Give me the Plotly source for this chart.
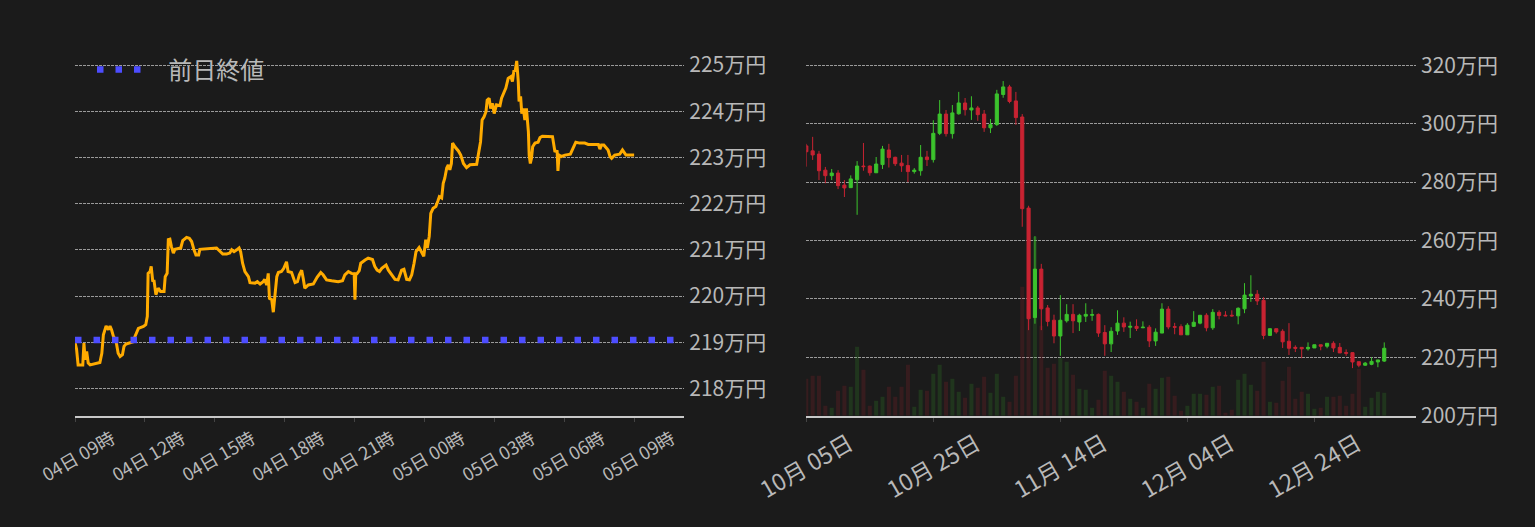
"""BTC/JPY: 24時間チャート + 日足ローソク足."""
import pandas as pd
import plotly.graph_objects as go

BG = "#1b1b1b"
TEXT = "#b8b8b8"
GRID = "#9a9a9a"
AXIS = "#c8c8c8"
UP = "#3cc32d"
DOWN = "#c82332"
FONT = "Noto Sans CJK JP"

# 左: 04日 09時からの経過分 / 価格(万円)
intraday_minutes = [
    0, 4, 8, 20, 23, 26, 30, 34, 39, 64, 69, 73, 80, 86, 90, 94, 99, 105, 111, 116,
    122, 126, 131, 141, 150, 154, 163, 176, 182, 186, 188, 193, 196, 200, 203, 208,
    214, 220, 229, 232, 237, 240, 244, 248, 253, 257, 272, 277, 287, 294, 300, 306,
    311, 318, 321, 364, 371, 380, 390, 398, 403, 409, 416, 422, 426, 431, 437, 446,
    450, 463, 469, 476, 484, 488, 493, 497, 500, 506, 510, 514, 519, 523, 531, 537,
    544, 548, 557, 566, 572, 577, 583, 587, 591, 600, 613, 623, 632, 638, 647, 660,
    677, 688, 694, 703, 711, 718, 720, 722, 725, 731, 735, 746, 754, 765, 771, 777,
    783, 789, 800, 806, 814, 823, 831, 840, 846, 853, 860, 866, 872, 877, 885, 891,
    897, 902, 906, 911, 915, 921, 928, 933, 937, 943, 947, 951, 956, 960, 964, 968,
    971, 977, 986, 992, 999, 1007, 1016, 1033, 1038, 1043, 1047, 1052, 1057, 1060,
    1065, 1069, 1074, 1078, 1084, 1093, 1097, 1103, 1108, 1114, 1121, 1125, 1129,
    1132, 1136, 1140, 1142, 1146, 1149, 1153, 1157, 1161, 1166, 1168, 1171, 1174,
    1177, 1183, 1191, 1196, 1202, 1228, 1234, 1240, 1242, 1245, 1251, 1260, 1274,
    1281, 1288, 1298, 1311, 1320, 1346, 1350, 1354, 1360, 1367, 1371, 1376, 1380,
    1388, 1401, 1408, 1412, 1417, 1438,
]
intraday_price = [
    219.00, 218.85, 218.51, 218.51, 218.98, 218.62, 218.80, 218.55, 218.51, 218.56,
    218.76, 219.16, 219.35, 219.27, 219.35, 219.27, 219.12, 219.05, 218.76, 218.69,
    218.73, 218.91, 218.96, 218.99, 219.01, 219.12, 219.30, 219.34, 219.38, 219.56,
    220.49, 220.53, 220.64, 220.31, 220.35, 220.03, 220.17, 220.10, 220.10, 220.42,
    220.49, 221.22, 221.23, 221.07, 220.93, 221.01, 221.04, 221.20, 221.27, 221.25,
    221.18, 221.00, 220.89, 220.89, 221.01, 221.04, 220.99, 220.91, 220.91, 220.93,
    221.00, 220.96, 221.00, 221.04, 220.96, 220.71, 220.53, 220.42, 220.29, 220.28,
    220.31, 220.26, 220.31, 220.36, 220.24, 220.49, 219.95, 219.92, 219.65, 219.99,
    220.42, 220.51, 220.53, 220.60, 220.74, 220.53, 220.51, 220.29, 220.31, 220.46,
    220.56, 220.38, 220.17, 220.24, 220.26, 220.41, 220.51, 220.46, 220.35, 220.33,
    220.31, 220.33, 220.46, 220.53, 220.49, 220.48, 219.92, 220.48, 220.48, 220.55,
    220.71, 220.78, 220.82, 220.79, 220.64, 220.56, 220.53, 220.60, 220.67, 220.56,
    220.46, 220.36, 220.35, 220.56, 220.58, 220.36, 220.35, 220.46, 220.71, 220.96,
    221.05, 220.96, 220.86, 221.22, 221.04, 221.29, 221.79, 221.90, 221.94, 222.05,
    222.15, 222.12, 222.44, 222.55, 222.77, 222.84, 222.73, 222.87, 223.31, 223.23,
    223.14, 223.05, 222.87, 222.78, 222.84, 222.85, 223.09, 223.34, 223.81, 223.88,
    223.99, 224.24, 224.28, 224.06, 224.17, 223.95, 224.14, 224.12, 224.28, 224.42,
    224.50, 224.71, 224.75, 224.64, 224.89, 224.86, 225.09, 224.64, 224.21, 224.32,
    223.95, 224.06, 223.81, 224.06, 223.56, 223.05, 222.87, 222.98, 223.23, 223.31,
    223.33, 223.43, 223.46, 223.45, 223.14, 223.13, 222.71, 223.05, 223.02, 223.05,
    223.07, 223.20, 223.33, 223.31, 223.31, 223.28, 223.28, 223.18, 223.27, 223.27,
    223.20, 223.16, 223.02, 222.98, 223.05, 223.07, 223.16, 223.10, 223.05, 223.05,
]
prev_close = 219.05

# 右: 日足 2022-10-05 〜 2023-01-04 (万円)
candle_open = [
    292.4, 290.7, 289.6, 284.1, 282.2, 283.1, 279.0, 278.1, 280.8, 285.5,
    285.5, 283.2, 286.0, 291.0, 288.5, 286.5, 285.7, 283.6, 283.9, 288.6,
    287.7, 296.7, 303.3, 296.6, 303.4, 307.1, 304.7, 305.4, 303.3, 298.6,
    299.7, 310.0, 312.6, 307.8, 302.3, 271.1, 233.6, 250.2, 236.9, 232.7,
    227.3, 232.5, 234.7, 232.1, 234.1, 234.4, 234.7, 228.5, 224.6, 229.0,
    231.7, 230.3, 230.6, 230.1, 230.3, 225.6, 228.3, 236.5, 230.5, 230.5,
    227.7, 230.6, 231.7, 234.4, 230.1, 235.4, 234.4, 234.4, 234.2, 236.6,
    241.0, 241.6, 239.5, 227.5, 229.8, 228.9, 225.5, 223.4, 223.4, 222.9,
    223.2, 224.3, 223.8, 224.8, 223.4, 221.6, 221.6, 218.5, 217.3, 217.6,
    218.4, 218.7,
]
candle_high = [
    293.1, 295.5, 290.7, 285.2, 284.5, 284.1, 280.7, 282.3, 287.2, 293.4,
    285.7, 288.6, 292.4, 293.1, 288.7, 289.3, 289.3, 284.8, 292.7, 290.7,
    301.2, 308.1, 304.7, 306.4, 310.9, 308.8, 309.4, 306.1, 304.7, 301.6,
    311.6, 314.6, 313.3, 310.9, 303.3, 271.9, 261.5, 252.0, 237.9, 234.6,
    241.3, 238.2, 238.2, 234.9, 238.5, 236.5, 235.0, 231.0, 230.3, 236.1,
    233.7, 232.2, 233.0, 232.3, 231.0, 229.9, 238.5, 237.5, 231.8, 231.3,
    231.7, 235.8, 234.4, 235.1, 236.5, 236.1, 235.8, 236.1, 237.1, 245.4,
    248.1, 243.0, 240.6, 229.8, 229.8, 229.6, 231.7, 224.1, 223.4, 225.1,
    224.3, 224.3, 224.8, 225.5, 224.9, 222.7, 221.6, 218.5, 218.4, 220.0,
    219.1, 225.1,
]
candle_low = [
    285.3, 287.6, 280.7, 279.6, 280.7, 277.6, 274.9, 278.1, 268.8, 283.9,
    282.2, 283.2, 284.5, 285.0, 285.5, 283.5, 280.0, 282.9, 282.2, 285.5,
    286.7, 296.1, 295.6, 294.9, 303.1, 302.8, 301.3, 301.0, 297.2, 296.8,
    299.2, 308.9, 307.0, 299.6, 264.7, 229.3, 231.5, 229.3, 230.6, 224.8,
    220.5, 231.9, 228.3, 229.0, 232.1, 232.5, 227.0, 220.5, 221.8, 227.7,
    228.7, 226.6, 229.0, 230.1, 223.5, 223.9, 228.3, 229.6, 227.9, 227.7,
    227.7, 230.4, 231.3, 228.9, 229.4, 233.0, 234.2, 233.9, 231.3, 235.1,
    239.0, 237.9, 226.2, 227.3, 228.1, 223.2, 220.8, 221.8, 219.7, 222.3,
    223.2, 222.4, 223.1, 221.8, 221.5, 220.5, 216.3, 216.6, 217.1, 217.3,
    216.6, 218.4,
]
candle_close = [
    290.4, 289.3, 283.9, 282.2, 283.1, 278.8, 278.0, 281.1, 285.5, 285.3,
    283.2, 286.2, 291.3, 288.4, 286.3, 285.6, 283.6, 284.1, 288.5, 287.7,
    296.7, 303.3, 296.6, 303.7, 307.1, 304.8, 305.4, 303.1, 298.6, 299.7,
    310.2, 312.6, 307.6, 302.1, 270.9, 233.2, 250.2, 236.6, 232.3, 227.3,
    232.7, 234.7, 232.5, 234.4, 234.7, 234.6, 228.3, 224.6, 228.9, 231.7,
    230.4, 230.6, 229.9, 230.3, 225.6, 228.6, 236.5, 230.4, 230.3, 227.7,
    231.0, 232.0, 234.4, 230.1, 235.4, 234.3, 234.2, 234.2, 236.8, 241.3,
    241.6, 239.3, 227.5, 229.8, 228.7, 225.3, 223.1, 223.1, 222.9, 223.4,
    224.3, 223.8, 224.8, 223.2, 221.5, 221.4, 218.4, 217.3, 218.0, 218.6,
    219.1, 223.1,
]
volume = [
    3700, 4000, 4000, 1000, 800, 2500, 3000, 2900, 6900, 4600,
    1000, 1500, 1900, 2900, 1900, 2900, 5100, 900, 2600, 2500,
    4200, 5100, 3400, 3700, 2400, 1800, 3200, 2800, 3900, 2300,
    4200, 1900, 1400, 4000, 12900, 11000, 17900, 9000, 4800, 5200,
    5800, 5400, 4100, 2700, 2600, 800, 1600, 4500, 4000, 3400,
    2400, 1700, 1400, 800, 3200, 2700, 3800, 3900, 2000, 500,
    1000, 2200, 2200, 2100, 2900, 3000, 300, 600, 3600, 4200,
    3100, 2500, 5400, 1400, 1300, 3500, 4900, 1700, 2400, 2200,
    700, 800, 1900, 1900, 2000, 1000, 2200, 4700, 900, 1800,
    2400, 2300,
]

DAY_MS = 86400000
HOUR_MS = 3600000


def intraday_traces() -> list:
    start = pd.Timestamp("2023-01-04 09:00")
    end = start + pd.Timedelta(minutes=1567)
    x = [start + pd.Timedelta(minutes=m) for m in intraday_minutes]
    return [
        go.Scatter(
            x=x,
            y=intraday_price,
            mode="lines",
            line=dict(color="#ffab00", width=3),
            showlegend=False,
            xaxis="x",
            yaxis="y",
        ),
        go.Scatter(
            x=[start, end],
            y=[prev_close, prev_close],
            mode="lines",
            # 凡例の記号と文字の間隔を広げるため NBSP を前置
            name="\u00a0\u00a0\u00a0前日終値",
            line=dict(color="#4d4dff", width=6.5, dash="6.5px,12px"),
            xaxis="x",
            yaxis="y",
        ),
    ]


def daily_traces() -> list:
    days = pd.date_range("2022-10-05", periods=len(candle_open), freq="D")
    vol_colors = [
        "rgba(60,195,45,0.16)" if c >= o else "rgba(200,35,50,0.16)"
        for o, c in zip(candle_open, candle_close)
    ]
    return [
        go.Bar(
            x=days,
            y=volume,
            marker=dict(color=vol_colors, line=dict(width=0)),
            width=0.63 * DAY_MS,
            showlegend=False,
            xaxis="x2",
            yaxis="y2",
        ),
        go.Candlestick(
            x=days,
            open=candle_open,
            high=candle_high,
            low=candle_low,
            close=candle_close,
            increasing=dict(line=dict(color=UP, width=1), fillcolor=UP),
            decreasing=dict(line=dict(color=DOWN, width=1), fillcolor=DOWN),
            whiskerwidth=0,
            showlegend=False,
            xaxis="x2",
            yaxis="y3",
        ),
    ]


fig = go.Figure(intraday_traces() + daily_traces())

ydom = [1 - 415.7 / 527, 1 - 47 / 527]
xaxis_common = dict(
    showgrid=False,
    zeroline=False,
    showline=True,
    linecolor=AXIS,
    linewidth=2,
    ticks="outside",
    ticklen=4,
    tickcolor="#444444",
    tickangle=-30,
    automargin=False,
)
yaxis_common = dict(
    side="right",
    showgrid=True,
    gridcolor=GRID,
    gridwidth=1,
    griddash="3px,1px",
    zeroline=False,
    showline=False,
    ticks="",
    ticklabelstandoff=4,
    ticksuffix="万円",
    tickfont=dict(size=21, color=TEXT),
    automargin=False,
)

fig.update_layout(
    width=1535,
    height=527,
    paper_bgcolor=BG,
    plot_bgcolor=BG,
    margin=dict(l=0, r=0, t=0, b=0, autoexpand=False),
    font=dict(family=FONT, color=TEXT),
    showlegend=True,
    legend=dict(
        x=92 / 1535,
        y=1 - 70 / 527,
        xanchor="left",
        yanchor="middle",
        bgcolor="rgba(0,0,0,0)",
        font=dict(size=24, color=TEXT),
        itemwidth=50,
    ),
    xaxis=dict(
        domain=[75 / 1535, 684.3 / 1535],
        range=["2023-01-04 09:00", "2023-01-05 11:07"],
        tick0="2023-01-04 09:00",
        dtick=3 * HOUR_MS,
        tickformat="%d日 %H時",
        tickfont=dict(size=18, color=TEXT),
        ticklabelshift=37,
        anchor="y",
        **xaxis_common,
    ),
    yaxis=dict(
        domain=ydom,
        range=[217.41, 225.39],
        dtick=1,
        anchor="x",
        **yaxis_common,
    ),
    xaxis2=dict(
        domain=[806.3 / 1535, 1416 / 1535],
        range=["2022-10-05", "2023-01-09"],
        tick0="2022-10-05",
        dtick=20 * DAY_MS,
        tickformat="%m月 %d日",
        tickfont=dict(size=23, color=TEXT),
        ticklabelshift=43,
        rangeslider=dict(visible=False),
        anchor="y2",
        **xaxis_common,
    ),
    yaxis2=dict(domain=ydom, range=[0, 36870], visible=False, anchor="x2"),
    yaxis3=dict(
        overlaying="y2",
        anchor="x2",
        range=[200, 326.27],
        dtick=20,
        **yaxis_common,
    ),
)

fig.write_html(
    "out.html",
    config={"displayModeBar": False},
    post_script="document.body.style.margin = '0';",
)
